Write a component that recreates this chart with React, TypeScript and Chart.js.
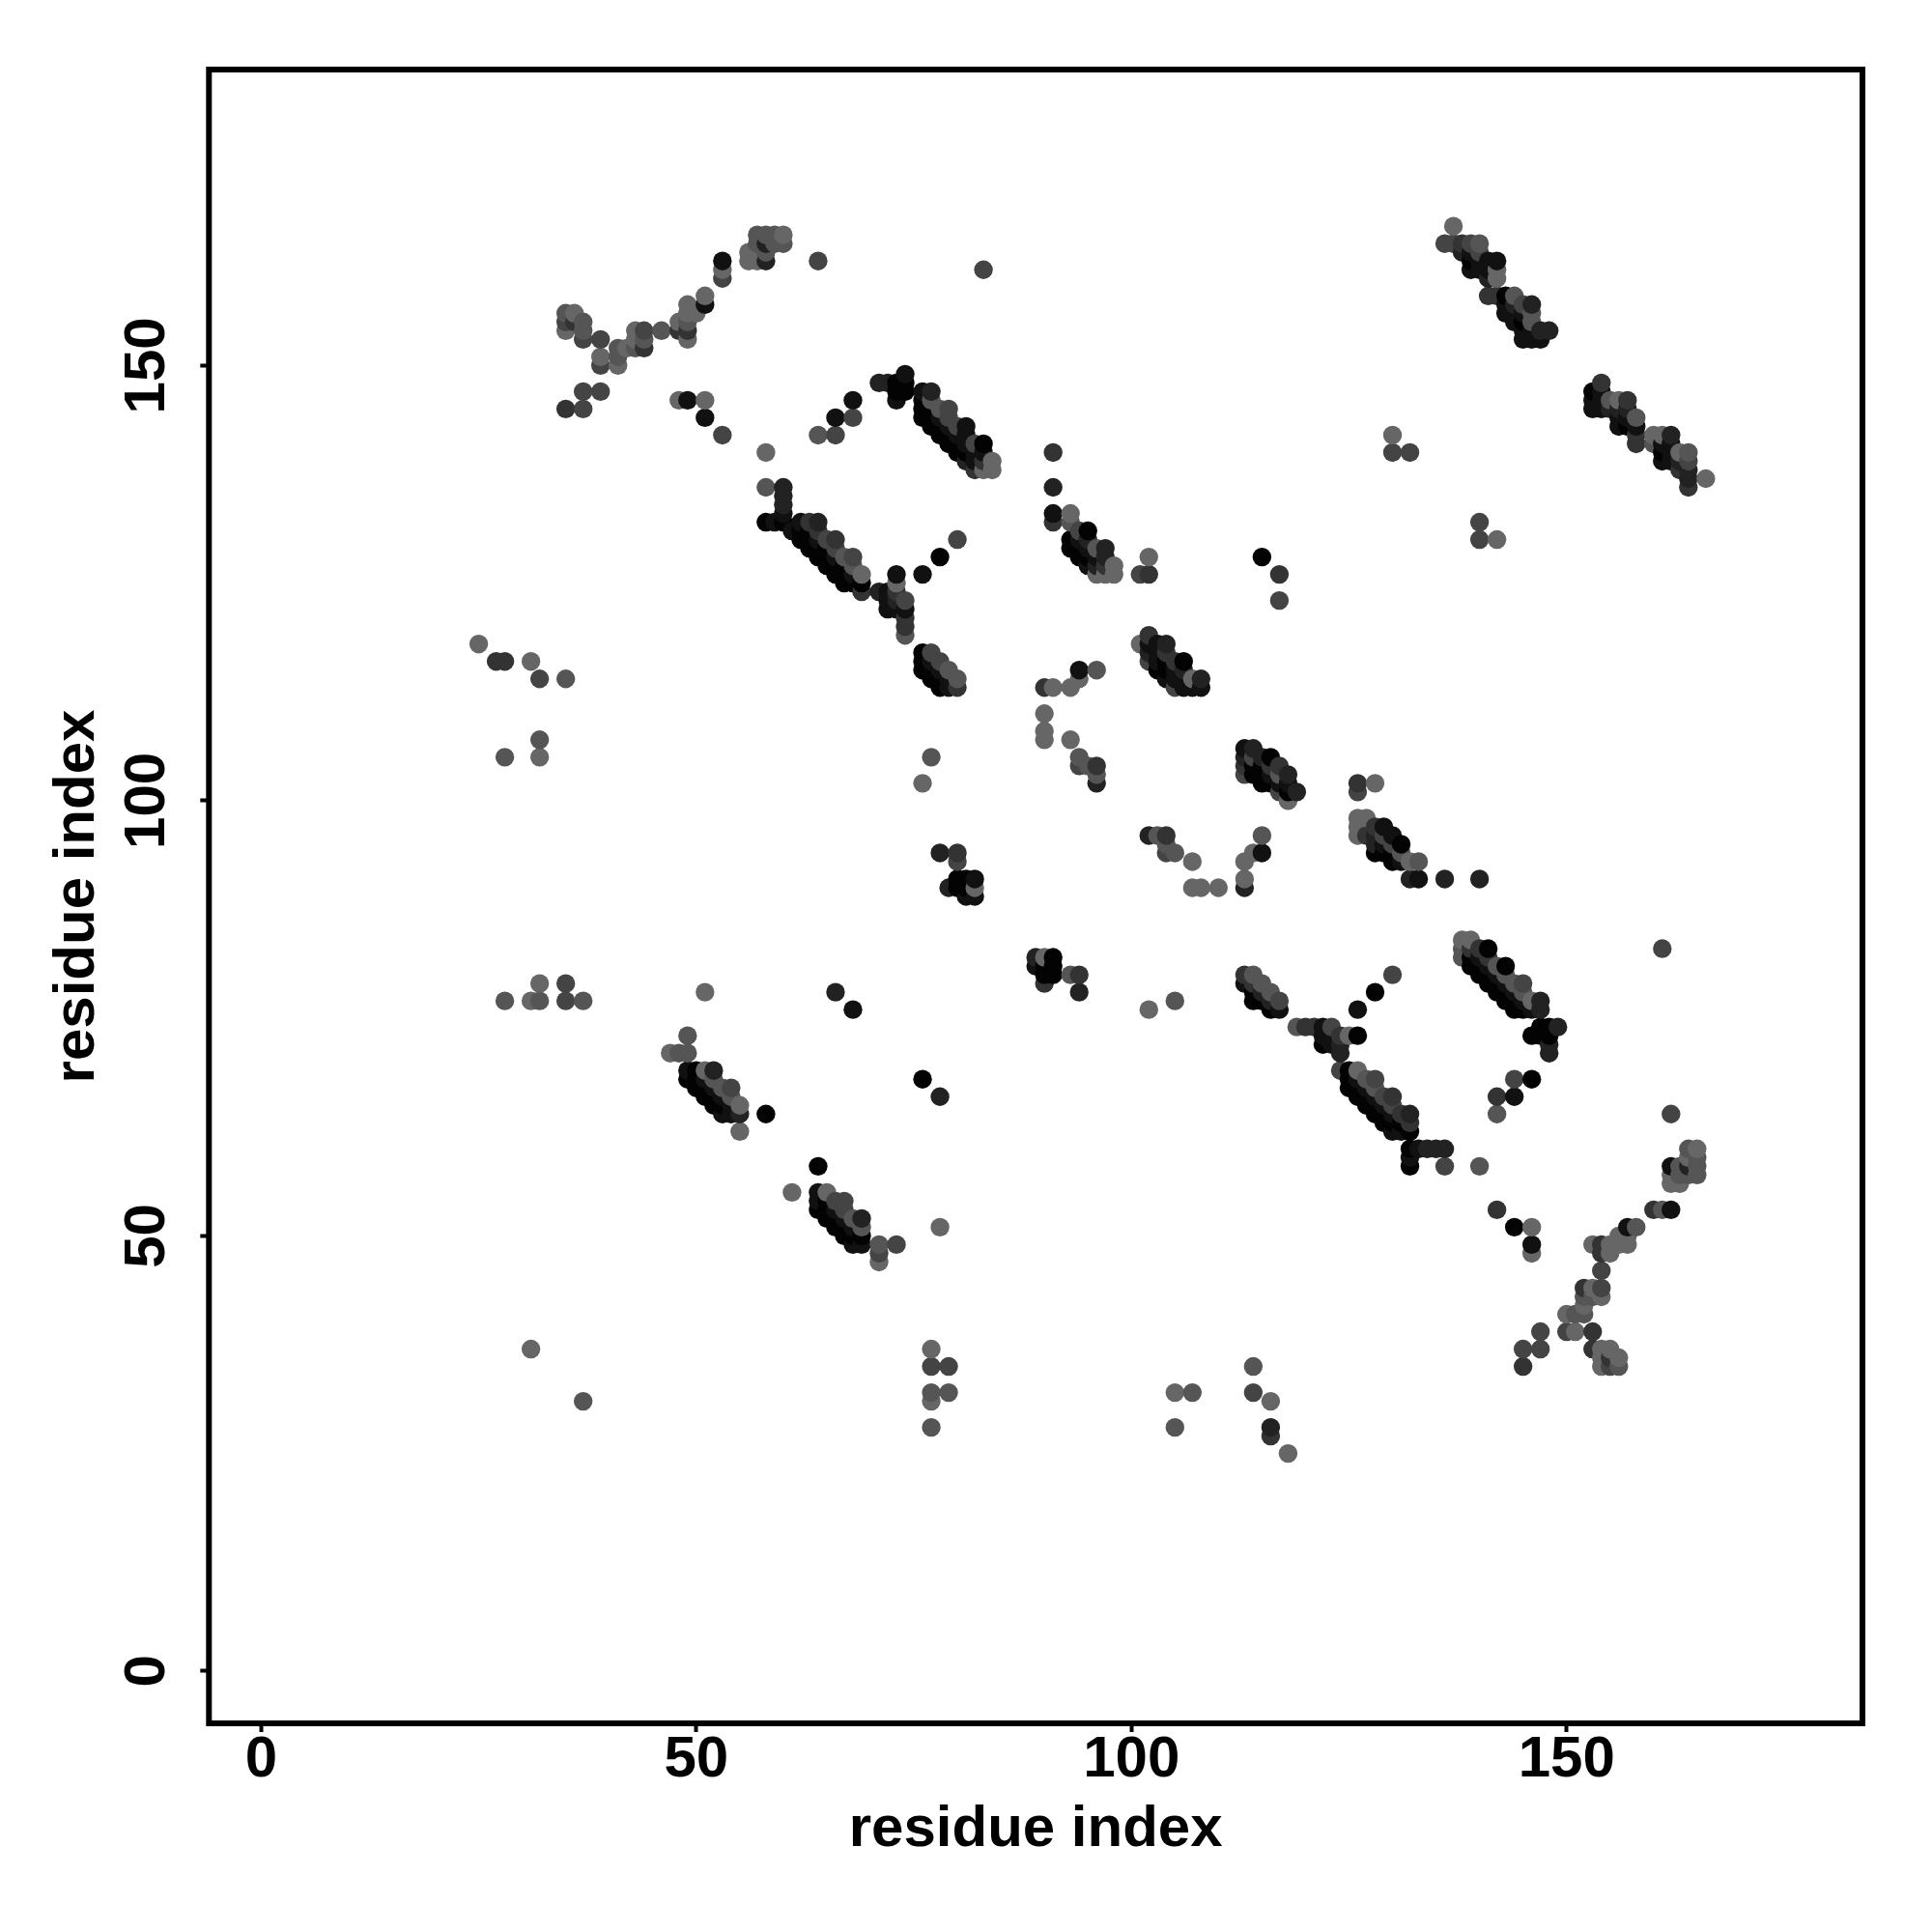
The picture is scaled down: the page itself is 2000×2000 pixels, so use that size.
import React, { useEffect, useRef } from "react";
import { Chart, registerables } from "chart.js";

Chart.register(...registerables);

type Contact = [number, number, number];

const axisTicks = [0, 50, 100, 150];
const axisRange = [-6, 184];
const axisLabel = "residue index";
const levelGrey = [3, 17, 34, 51, 68, 85, 102];

const armUpperLeft: Contact[] = [[35,156,5],[36,156,6],[35,155,4],[36,155,3],[37,155,5],[35,154,6],[37,154,5],[37,153,4],[39,153,4],[39,151,6],[39,150,4],[41,150,6],[41,151,5],[41,152,5],[42,152,6],[43,152,5],[43,154,6],[44,154,4],[44,153,5],[43,153,6],[44,152,3],[46,154,5],[48,155,6],[48,154,3],[49,154,3],[49,155,5],[49,153,6],[49,157,6],[49,156,6],[50,156,6],[51,158,6],[51,157,1],[53,162,1],[53,161,6],[53,160,4],[56,163,6],[56,162,6],[57,164,5],[57,162,6],[58,165,5],[58,164,2],[58,163,5],[58,162,2],[57,165,5],[59,165,5],[60,165,6],[60,164,5],[59,164,5],[64,162,4],[83,161,4]];
const scatterUpperLeft: Contact[] = [[37,147,4],[39,147,4],[35,145,3],[37,145,4],[48,146,6],[49,146,1],[51,146,6],[51,144,1],[53,142,4],[58,140,6],[58,136,5],[60,136,2],[60,135,2],[60,134,2],[60,133,1],[60,132,0],[58,132,0],[59,132,1],[73,126,1],[73,125,6],[76,126,1],[78,128,0],[80,130,4],[64,142,5],[66,142,4],[66,144,1],[68,144,4],[68,146,1],[71,148,2],[72,148,2],[73,148,0],[74,149,1],[74,148,0],[74,147,0],[73,147,0],[73,146,1]];
const stripB: Contact[] = [[62,132,1],[63,132,3],[64,132,2],[61,131,1],[62,131,0],[63,131,0],[64,131,3],[62,130,0],[63,130,0],[64,130,1],[65,130,4],[66,130,3],[63,129,0],[64,129,0],[65,129,0],[66,129,4],[64,128,0],[65,128,0],[66,128,1],[67,128,5],[68,128,4],[65,127,0],[66,127,0],[67,127,0],[68,127,5],[66,126,0],[67,126,0],[68,126,1],[69,126,6],[67,125,0],[68,125,0],[69,125,0],[69,124,3]];
const clusterC: Contact[] = [[71,124,2],[72,124,1],[73,124,3],[73,123,2],[72,123,1],[72,122,1],[73,122,1],[74,123,4],[74,122,1],[74,121,3],[74,120,3],[74,119,5]];
const stripE: Contact[] = [[76,147,1],[77,147,2],[76,146,0],[77,146,5],[76,145,0],[77,145,0],[78,145,5],[79,145,4],[76,144,0],[77,144,0],[78,144,1],[79,144,4],[77,143,0],[78,143,0],[79,143,1],[80,143,4],[81,143,1],[78,142,0],[79,142,0],[80,142,1],[81,142,1],[79,141,0],[80,141,0],[81,141,1],[82,141,4],[83,141,0],[80,140,0],[81,140,0],[82,140,1],[83,140,1],[81,139,2],[82,139,1],[83,139,3],[84,139,6],[82,138,3],[83,138,6],[84,138,6]];
const groupLeft: Contact[] = [[25,118,6],[27,116,3],[28,116,3],[31,116,6],[32,114,4],[35,114,5],[32,107,5],[28,105,5],[32,105,6],[76,102,6],[77,105,5]];
const clusterF: Contact[] = [[76,117,0],[77,117,4],[76,116,0],[77,116,1],[78,116,4],[76,115,0],[77,115,0],[78,115,1],[79,115,5],[77,114,0],[78,114,0],[79,114,1],[80,114,5],[78,113,0],[79,113,1],[80,113,3]];
const clusterG: Contact[] = [[78,94,2],[80,94,3],[80,93,4],[79,90,2],[80,91,0],[80,90,0],[81,91,0],[81,90,0],[82,91,1],[82,90,6],[81,89,1],[82,89,1]];
const clusterH: Contact[] = [[137,166,6],[136,164,4],[137,164,4],[138,164,3],[139,164,4],[140,164,5],[138,163,2],[139,163,1],[140,163,4],[139,162,0],[140,162,1],[141,162,1],[142,162,1],[139,161,1],[140,161,1],[141,161,1],[142,161,6],[141,160,2],[142,160,6],[141,158,3],[142,158,3],[143,158,0],[144,158,5],[143,157,1],[144,157,2],[145,157,4],[146,157,2],[143,156,1],[144,156,1],[145,156,1],[146,156,5],[144,155,1],[145,155,0],[146,155,5],[145,154,1],[146,154,1],[147,154,2],[148,154,2],[145,153,1],[146,153,1],[147,153,1]];
const clusterI: Contact[] = [[154,148,3],[153,147,0],[153,146,1],[153,145,1],[154,147,1],[154,146,1],[154,145,1],[155,146,5],[156,146,6],[157,146,3],[155,145,2],[156,145,2],[157,145,2],[156,144,1],[157,144,1],[158,144,5],[156,143,1],[157,143,0],[158,143,1],[158,142,3],[158,141,3]];
const clusterJ: Contact[] = [[160,142,6],[161,142,6],[162,142,2],[160,141,5],[161,141,1],[162,141,1],[161,140,0],[162,140,1],[161,139,1],[162,139,1],[163,140,6],[164,140,5],[164,139,4],[163,139,2],[164,138,2],[163,138,3],[164,137,2],[164,136,3],[166,137,6]];
const scatterUpper: Contact[] = [[130,142,6],[130,140,4],[132,140,4],[140,132,4],[140,130,4],[142,130,6],[115,128,0],[117,126,3],[117,123,4],[91,140,3],[91,136,2],[91,133,1],[91,132,3],[102,128,6],[101,126,4],[102,126,3]];
const clusterK: Contact[] = [[93,133,6],[93,132,5],[94,131,4],[95,131,0],[93,130,0],[94,130,1],[95,130,2],[93,129,0],[94,129,0],[95,129,1],[96,129,5],[97,129,2],[94,128,0],[95,128,0],[96,128,1],[97,128,2],[95,127,1],[96,127,2],[97,127,3],[98,127,6],[96,126,6],[97,126,6],[98,126,6]];
const groupMiddle: Contact[] = [[90,113,3],[91,113,6],[93,113,6],[94,114,6],[94,115,1],[96,115,5],[90,110,6],[90,108,6],[90,107,6],[93,107,6],[94,105,5],[94,104,4],[95,104,5],[96,104,3],[96,103,5],[96,102,2]];
const clusterL: Contact[] = [[101,118,6],[102,119,3],[102,118,1],[102,117,2],[102,116,4],[103,118,1],[104,118,2],[103,117,1],[103,116,1],[103,115,0],[104,117,3],[104,116,0],[104,115,0],[105,116,3],[106,116,0],[105,115,1],[105,114,1],[106,115,2],[106,114,1],[106,113,1],[107,114,6],[108,114,2],[108,113,1],[107,113,1],[105,113,4],[104,114,1]];
const clusterM: Contact[] = [[113,106,1],[114,106,2],[113,105,2],[113,104,3],[113,103,4],[114,105,4],[114,104,0],[114,103,0],[115,105,2],[116,105,0],[115,104,0],[115,103,0],[115,102,0],[116,104,3],[116,103,1],[116,102,0],[117,104,3],[117,103,5],[118,103,2],[118,102,1],[117,102,1],[117,101,4],[118,101,0],[119,101,2],[118,100,6]];
const clusterN: Contact[] = [[126,102,3],[128,102,6],[126,101,4],[126,98,6],[127,98,6],[126,97,6],[126,96,6],[127,96,3],[128,97,3],[129,97,1],[128,96,2],[128,95,2],[128,94,0],[129,95,1],[129,96,4],[130,96,1],[130,95,4],[131,95,0],[130,94,0],[130,93,0],[131,94,5],[131,93,1],[129,94,0],[132,93,6],[133,93,5],[132,91,2],[133,91,1],[136,91,2],[140,91,2]];
const groupV: Contact[] = [[102,96,2],[103,96,5],[104,96,3],[104,94,4],[105,94,5],[104,95,5],[107,93,6],[107,90,6],[108,90,6],[110,90,6],[113,91,6],[113,90,2],[113,93,6],[114,94,6],[115,94,1],[115,96,5]];
const clusterO: Contact[] = [[89,82,2],[90,82,6],[91,82,0],[89,81,1],[90,81,0],[91,81,0],[90,80,0],[91,80,0],[90,79,3],[93,80,5],[94,80,3],[94,78,2],[102,76,6],[105,77,5]];
const clusterP: Contact[] = [[113,80,3],[114,80,5],[113,79,1],[114,79,3],[115,79,5],[114,78,0],[115,78,2],[116,78,5],[114,77,0],[115,77,0],[116,77,2],[117,77,4],[116,76,0],[117,76,1]];
const clusterQ: Contact[] = [[119,74,5],[120,74,3],[121,74,3],[122,74,1],[123,74,4],[122,73,1],[122,72,0],[123,73,1],[123,72,1],[124,73,3],[124,72,2],[124,71,2],[125,73,6],[126,73,0],[126,76,1],[128,78,0],[130,80,4]];
const stripR: Contact[] = [[124,69,4],[125,69,0],[126,69,6],[125,68,0],[126,68,1],[127,68,5],[128,68,4],[125,67,0],[126,67,0],[127,67,1],[128,67,5],[126,66,0],[127,66,0],[128,66,1],[129,66,4],[130,66,3],[127,65,0],[128,65,0],[129,65,1],[130,65,4],[128,64,0],[129,64,0],[130,64,1],[131,64,3],[132,64,2],[129,63,0],[130,63,0],[131,63,0],[132,63,3],[130,62,1],[131,62,1],[132,62,0],[132,60,0],[133,60,1],[134,60,2],[135,60,2],[136,60,2],[132,59,1],[132,58,0],[136,58,4],[140,58,5]];
const stripS: Contact[] = [[138,84,6],[139,84,6],[138,83,5],[139,83,3],[140,83,3],[141,83,0],[138,82,5],[139,82,0],[140,82,1],[141,82,3],[139,81,0],[140,81,0],[141,81,1],[142,81,5],[143,81,0],[140,80,0],[141,80,0],[142,80,1],[143,80,5],[141,79,0],[142,79,0],[143,79,1],[144,79,5],[145,79,4],[142,78,0],[143,78,0],[144,78,1],[145,78,5],[143,77,0],[144,77,0],[145,77,1],[146,77,6],[147,77,2],[144,76,0],[145,76,0],[146,76,1],[147,76,2]];
const clusterT: Contact[] = [[147,74,0],[148,74,0],[149,74,2],[146,73,0],[147,73,0],[148,73,0],[148,72,2],[148,71,2],[142,66,3],[144,66,1],[144,68,4],[146,68,0],[142,64,5],[161,83,4],[162,64,4],[142,53,3],[144,51,0],[146,51,6],[146,49,1],[146,48,6],[147,39,4],[145,37,4],[147,37,4],[145,35,3]];
const armLowerRight: Contact[] = [[160,53,3],[161,53,5],[162,53,1],[164,60,5],[165,60,6],[164,59,6],[165,59,5],[165,58,5],[165,57,5],[164,58,2],[162,58,1],[163,58,5],[162,57,6],[162,56,6],[163,56,6],[163,57,5],[164,57,5],[157,51,1],[158,51,5],[156,50,6],[157,50,6],[155,49,6],[156,49,6],[157,49,6],[155,48,6],[154,49,3],[153,49,6],[154,48,3],[154,46,4],[152,44,3],[153,44,6],[154,44,4],[152,43,5],[153,43,5],[154,43,6],[152,42,6],[150,41,6],[151,41,5],[152,41,5],[150,39,4],[151,39,6],[153,39,3],[153,37,3],[154,37,6],[155,37,6],[154,36,6],[155,36,3],[156,36,6],[154,35,6],[155,35,4],[156,35,5]];
const groupLower: Contact[] = [[28,77,5],[31,77,6],[32,77,5],[32,79,6],[35,79,4],[35,77,4],[37,77,5],[51,78,6],[66,78,2],[68,76,1],[49,73,5],[47,71,6],[48,71,5],[49,71,5],[55,62,6],[58,64,0],[76,68,0],[78,66,2],[78,51,6],[31,37,6],[37,31,5],[77,37,6],[77,35,4],[79,35,4],[77,32,5],[79,32,5],[77,31,6],[77,28,5],[105,32,6],[107,32,5],[105,28,5],[114,35,5],[114,32,4],[116,31,6],[116,28,2],[116,27,3],[118,25,6]];
const clusterU: Contact[] = [[49,69,1],[50,69,0],[51,69,6],[52,69,2],[49,68,0],[50,68,0],[51,68,1],[52,68,5],[50,67,0],[51,67,0],[52,67,1],[53,67,5],[54,67,4],[51,66,0],[52,66,0],[53,66,1],[54,66,5],[52,65,0],[53,65,0],[54,65,1],[55,65,6],[53,64,1],[54,64,1],[55,64,2]];
const clusterW: Contact[] = [[64,58,0],[61,55,6],[64,55,1],[65,55,6],[64,54,1],[65,54,0],[66,54,4],[67,54,4],[64,53,0],[65,53,0],[66,53,1],[67,53,4],[65,52,0],[66,52,0],[67,52,1],[68,52,5],[69,52,2],[66,51,0],[67,51,0],[68,51,1],[69,51,5],[67,50,0],[68,50,0],[69,50,0],[68,49,1],[69,49,1],[71,49,5],[71,48,4],[71,47,6],[73,49,4]];

const contacts: Contact[] = [
  armUpperLeft, scatterUpperLeft, stripB, clusterC, stripE, groupLeft, clusterF, clusterG,
  clusterH, clusterI, clusterJ, scatterUpper, clusterK, groupMiddle, clusterL, clusterM,
  clusterN, groupV, clusterO, clusterP, clusterQ, stripR, stripS, clusterT, armLowerRight,
  groupLower, clusterU, clusterW,
].flat().sort((a, b) => a[0] - b[0] || a[1] - b[1]);

const TITLE_FONT = { family: "'Liberation Sans', Arial, sans-serif", size: 60, weight: "bold" as const };
const TICK_FONT = { family: "'Liberation Sans', Arial, sans-serif", size: 60, weight: "bold" as const };

const framePlugin = {
  id: "frame",
  afterDatasetsDraw(chart: any) {
    const { ctx, chartArea: a } = chart;
    ctx.save();
    ctx.strokeStyle = "#000";
    ctx.lineWidth = 6;
    ctx.strokeRect(a.left, a.top, a.right - a.left, a.bottom - a.top);
    ctx.restore();
  },
};

export default function App() {
  const ref = useRef<HTMLCanvasElement>(null);
  useEffect(() => {
    document.body.style.margin = "0";
    const fixTicks = (scale: any) => {
      scale.ticks = axisTicks.map((value) => ({ value }));
    };
    const grid = { drawOnChartArea: false, drawTicks: true, tickLength: 9, tickWidth: 4, tickColor: "#000" };
    const chart = new Chart(ref.current!, {
      type: "scatter",
      data: {
        datasets: [
          {
            data: contacts.map((c) => ({ x: c[0], y: c[1] })),
            backgroundColor: contacts.map((c) => {
              const g = levelGrey[c[2]];
              return `rgb(${g},${g},${g})`;
            }),
            borderWidth: 0,
            pointRadius: 9.7,
            pointHoverRadius: 9.7,
            clip: false,
          },
        ],
      },
      options: {
        animation: false,
        responsive: false,
        devicePixelRatio: 1,
        layout: { padding: { left: 40, right: 72, top: 72, bottom: 40 } },
        plugins: { legend: { display: false }, tooltip: { enabled: false }, title: { display: false } },
        scales: {
          x: {
            type: "linear",
            min: axisRange[0],
            max: axisRange[1],
            afterBuildTicks: fixTicks,
            afterFit: (s: any) => {
              s.height = 176;
            },
            border: { display: false },
            grid,
            ticks: { font: TICK_FONT, color: "#000", padding: -7, maxRotation: 0, minRotation: 0, autoSkip: false },
            title: { display: true, text: axisLabel, font: TITLE_FONT, color: "#000", padding: { top: 0, bottom: 30 } },
          },
          y: {
            type: "linear",
            min: axisRange[0],
            max: axisRange[1],
            afterBuildTicks: fixTicks,
            afterFit: (s: any) => {
              s.width = 176.3;
            },
            border: { display: false },
            grid,
            ticks: { font: TICK_FONT, color: "#000", padding: 4, maxRotation: 90, minRotation: 90, crossAlign: "center", autoSkip: false },
            title: { display: true, text: axisLabel, font: TITLE_FONT, color: "#000", padding: { top: 4, bottom: 0 } },
          },
        },
      } as any,
      plugins: [framePlugin],
    });
    return () => chart.destroy();
  }, []);
  return <canvas ref={ref} width={2000} height={2000} style={{ display: "block" }} />;
}
